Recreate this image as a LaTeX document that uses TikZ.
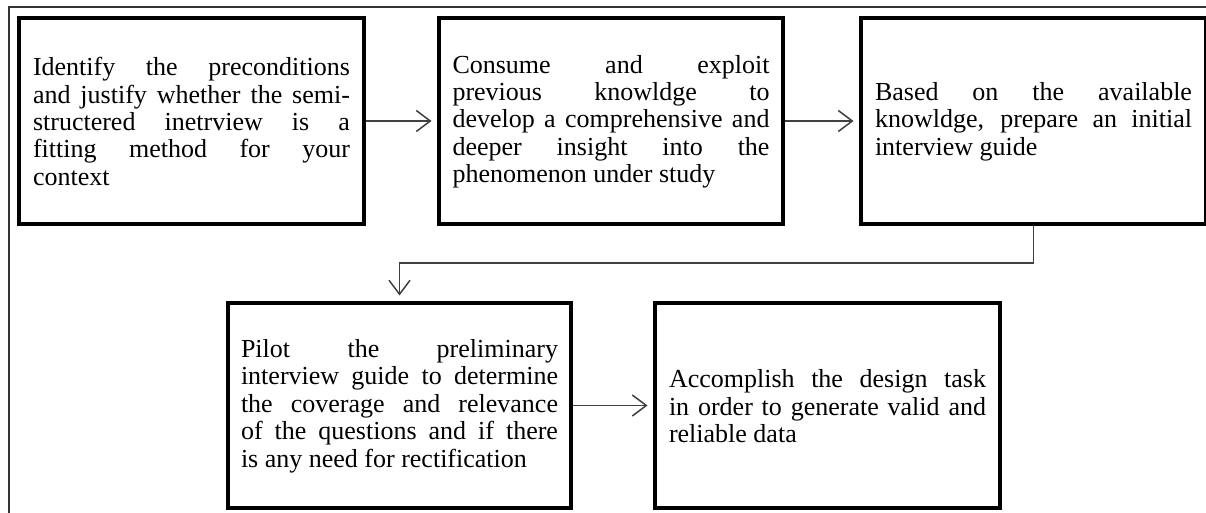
\documentclass[tikz,border=0pt]{standalone}
\usepackage{fontspec}
\setmainfont{Liberation Serif}
\usetikzlibrary{arrows.meta}

% width of the text column inside every box
\newdimen\colw \colw=317pt
% one justified line of a box text, and one ragged last line,
% both with the font's own stretchable word spaces; the kern after the
% last line lifts the text block a little inside its box
\newcommand\jline[1]{\par\noindent\hbox to \colw{\spaceskip=0pt\relax\xspaceskip=0pt\relax #1}\par}
\newcommand\lline[1]{\par\noindent\hbox{\spaceskip=0pt\relax\xspaceskip=0pt\relax #1}\par\kern8pt}

\begin{document}
\begin{tikzpicture}[x=1pt,y=-1pt,
  stepbox/.style={draw=black,line width=4pt,inner sep=0pt,
    minimum width=345pt,minimum height=206pt,text width=317pt,align=justify,
    font=\fontsize{26}{27.4}\selectfont},
  flow/.style={draw=black!75,line width=1.5pt,
    -{Straight Barb[length=14pt,width=21pt,line width=1.5pt]},shorten >=5.5pt},
  frame/.style={draw=black!80,line width=2pt}]
\useasboundingbox (0,0) rectangle (1206,513);

% outer frame (only its left and top sides fall inside the page)
\draw[frame] (8.5,520) -- (8.5,7.5) -- (1215,7.5);

\node[stepbox] (b1) at (191.5,121) {%
  \jline{Identify the preconditions}%
  \jline{and justify whether the semi-}%
  \jline{structered inetrview is a}%
  \jline{fitting method for your}%
  \lline{context}};

\node[stepbox,minimum width=344pt] (b2) at (611,121) {%
  \jline{Consume and exploit}%
  \jline{previous knowldge to}%
  \jline{develop a comprehensive and}%
  \jline{deeper insight into the}%
  \lline{phenomenon under study}};

\node[stepbox] (b3) at (1033.5,121) {%
  \jline{Based on the available}%
  \jline{knowldge, prepare an initial}%
  \lline{interview guide}};

\node[stepbox,minimum width=343pt,minimum height=205pt] (b4) at (399.5,405.5) {%
  \jline{Pilot the preliminary}%
  \jline{interview guide to determine}%
  \jline{the coverage and relevance}%
  \jline{of the questions and if there}%
  \lline{is any need for rectification}};

\node[stepbox,minimum height=205pt] (b5) at (827.5,405.5) {%
  \jline{Accomplish the design task}%
  \jline{in order to generate valid and}%
  \lline{reliable data}};

\coordinate (turn) at (1033.5,263);

\draw[flow] (b1.east) -- (b2.west);
\draw[flow] (b2.east) -- (b3.west);
\draw[flow] (b3.south) -- (turn) -| (b4.north);
\draw[flow] (b4.east) -- (b5.west);
\end{tikzpicture}
\end{document}
